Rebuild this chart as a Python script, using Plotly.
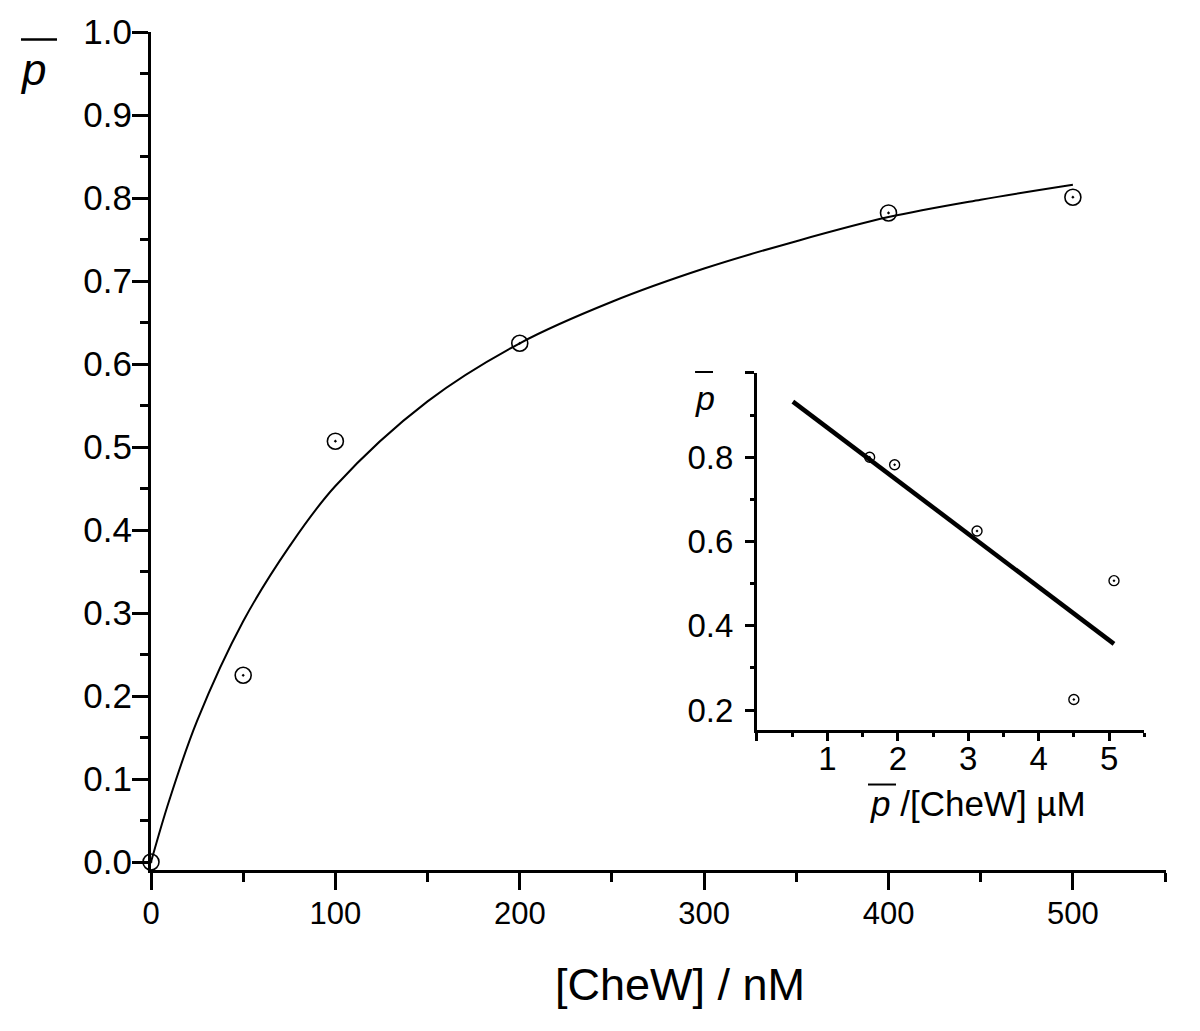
import plotly.graph_objects as go

# ---------------- data ----------------
# main panel: measured points
cheW_nM = [0, 50, 100, 200, 400, 500]
p_bar = [0.0, 0.225, 0.507, 0.625, 0.782, 0.801]

# main panel: fitted curve
fit_cheW_nM = [0, 10, 25, 50, 75, 100, 150, 200, 250, 300, 350, 400, 450, 500]
fit_p_bar = [0.0, 0.075, 0.17, 0.29, 0.38, 0.453, 0.555, 0.625, 0.675, 0.715,
             0.748, 0.777, 0.798, 0.816]

# inset: p / [CheW] (uM) vs p
inset_x = [1.6, 1.955, 3.125, 4.5, 5.07]
inset_y = [0.800, 0.782, 0.625, 0.225, 0.507]
inset_fit_x = [0.51, 5.07]
inset_fit_y = [0.932, 0.357]

# ticks
main_x_ticks = [0, 100, 200, 300, 400, 500]
main_x_minor = [50, 150, 250, 350, 450, 550]
main_y_ticks = [0.0, 0.1, 0.2, 0.3, 0.4, 0.5, 0.6, 0.7, 0.8, 0.9, 1.0]
main_y_minor = [0.05, 0.15, 0.25, 0.35, 0.45, 0.55, 0.65, 0.75, 0.85, 0.95]
inset_x_ticks = [0, 1, 2, 3, 4, 5]
inset_x_labels = ["", "1", "2", "3", "4", "5"]
inset_x_minor = [0.5, 1.5, 2.5, 3.5, 4.5, 5.5]
inset_y_ticks = [0.2, 0.4, 0.6, 0.8, 1.0]
inset_y_labels = ["0.2", "0.4", "0.6", "0.8", ""]
inset_y_minor = [0.3, 0.5, 0.7, 0.9]

FONT = "Liberation Sans, Arial, sans-serif"

fig = go.Figure()

fig.add_trace(go.Scatter(
    x=fit_cheW_nM, y=fit_p_bar, mode="lines", line_shape="spline",
    line=dict(color="black", width=2), xaxis="x", yaxis="y",
    showlegend=False, hoverinfo="skip", cliponaxis=False))
fig.add_trace(go.Scatter(
    x=cheW_nM, y=p_bar, mode="markers",
    marker=dict(symbol="circle-open-dot", size=16, color="black",
                line=dict(color="black", width=1.6)),
    xaxis="x", yaxis="y", showlegend=False, cliponaxis=False))

fig.add_trace(go.Scatter(
    x=inset_fit_x, y=inset_fit_y, mode="lines",
    line=dict(color="black", width=4.5), xaxis="x2", yaxis="y2",
    showlegend=False, hoverinfo="skip", cliponaxis=False))
fig.add_trace(go.Scatter(
    x=inset_x, y=inset_y, mode="markers",
    marker=dict(symbol="circle-open-dot", size=10, color="black",
                line=dict(color="black", width=1.4)),
    xaxis="x2", yaxis="y2", showlegend=False, cliponaxis=False))

axis_common = dict(showgrid=False, zeroline=False, showline=True,
                   linecolor="black", ticks="outside", tickcolor="black",
                   color="black")

fig.update_layout(
    width=1200, height=1031,
    paper_bgcolor="white", plot_bgcolor="white",
    margin=dict(l=151, r=34, t=27, b=161),
    font=dict(family=FONT, color="black"),
    xaxis=dict(**axis_common, range=[0, 550.5], domain=[0, 1],
               tickvals=main_x_ticks, linewidth=3, ticklen=17, tickwidth=2.5,
               tickfont=dict(size=31), ticklabelstandoff=-3,
               minor=dict(tickvals=main_x_minor, ticks="outside",
                          ticklen=9, tickwidth=2.5, tickcolor="black"),
               anchor="y"),
    yaxis=dict(**axis_common, range=[-0.0096, 1.0], domain=[0, 1],
               tickvals=main_y_ticks, tickformat=".1f", linewidth=3,
               ticklen=16, tickwidth=2.5, tickfont=dict(size=35),
               ticklabelstandoff=-7,
               minor=dict(tickvals=main_y_minor, ticks="outside",
                          ticklen=8, tickwidth=2.5, tickcolor="black"),
               anchor="x"),
    xaxis2=dict(**axis_common, range=[0, 5.5], domain=[0.597, 0.9786],
                tickvals=inset_x_ticks, ticktext=inset_x_labels,
                linewidth=3, ticklen=8, tickwidth=2.5,
                tickfont=dict(size=33), ticklabelstandoff=-10,
                minor=dict(tickvals=inset_x_minor, ticks="outside",
                           ticklen=4, tickwidth=2.5, tickcolor="black"),
                anchor="y2"),
    yaxis2=dict(**axis_common, range=[0.153, 1.0], domain=[0.1673, 0.5931],
                tickvals=inset_y_ticks, ticktext=inset_y_labels,
                linewidth=3, ticklen=9, tickwidth=2.5,
                tickfont=dict(size=33), ticklabelstandoff=5,
                minor=dict(tickvals=inset_y_minor, ticks="outside",
                           ticklen=4, tickwidth=2.5, tickcolor="black"),
                anchor="x2"),
)

annotations = [
    # main x title
    dict(text="[CheW] / nM", x=0.521, y=-0.1364, xref="paper", yref="paper",
         xanchor="center", yanchor="middle", showarrow=False,
         font=dict(size=45, family=FONT)),
    # main y label
    dict(text="<i>p</i>", x=-0.1163, y=0.955, xref="paper", yref="paper",
         xanchor="center", yanchor="middle", showarrow=False,
         font=dict(size=44, family=FONT)),
    # inset y label
    dict(text="<i>p</i>", x=0.5458, y=0.5635, xref="paper", yref="paper",
         xanchor="center", yanchor="middle", showarrow=False,
         font=dict(size=34, family=FONT)),
    # inset x title
    dict(text="<i>p</i> /[CheW] µM", x=0.7064, y=0.0795, xref="paper",
         yref="paper", xanchor="left", yanchor="middle", showarrow=False,
         font=dict(size=35, family=FONT)),
]
fig.update_layout(annotations=annotations)

shapes = [
    dict(type="line", xref="paper", yref="paper", x0=-0.1281, x1=-0.0926,
         y0=0.991, y1=0.991, line=dict(color="black", width=2.5)),
    dict(type="line", xref="paper", yref="paper", x0=0.536, x1=0.5537,
         y0=0.5943, y1=0.5943, line=dict(color="black", width=2)),
    dict(type="line", xref="paper", yref="paper", x0=0.7064, x1=0.734,
         y0=0.102, y1=0.102, line=dict(color="black", width=2)),
]
fig.update_layout(shapes=shapes)

fig.write_html("out.html",
               config={"displayModeBar": False},
               post_script="document.body.style.margin='0';"
                           "document.body.style.padding='0';")
